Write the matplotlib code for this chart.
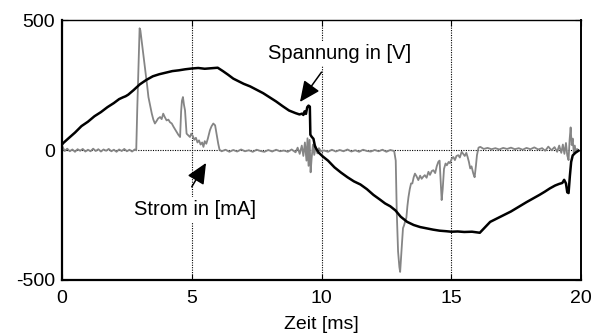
import matplotlib
matplotlib.use("Agg")
import matplotlib.pyplot as plt

plt.rcParams['font.family'] = ['Liberation Sans', 'DejaVu Sans']
plt.rcParams['axes.unicode_minus'] = False

# Spannung (voltage) trace, time in ms, value in V
t_u = [0.0, 0.05, 0.25, 0.5, 0.75, 1.0, 1.25, 1.5, 1.75, 2.0, 2.2, 2.35, 2.45, 2.55,
       2.75, 3.0, 3.25, 3.5, 3.75, 4.0, 4.25, 4.5, 4.75, 5.0, 5.25, 5.5, 5.75, 6.0,
       6.2, 6.4, 6.6, 6.8, 7.0, 7.25, 7.5, 7.75, 8.0, 8.25, 8.5, 8.75, 9.0, 9.15,
       9.25, 9.3, 9.35, 9.4, 9.45, 9.5, 9.55, 9.57, 9.62, 9.69, 9.75, 9.82, 9.9,
       10.05, 10.25, 10.5, 10.75, 11.0, 11.25, 11.5, 11.75, 12.0, 12.25, 12.45,
       12.65, 12.85, 13.05, 13.3, 13.55, 13.8, 14.05, 14.3, 14.55, 14.8, 15.0,
       15.25, 15.5, 15.8, 16.1, 16.3, 16.5, 16.7, 16.9, 17.1, 17.3, 17.5, 17.7,
       17.9, 18.15, 18.4, 18.6, 18.8, 19.0, 19.15, 19.28, 19.35, 19.42, 19.47,
       19.52, 19.57, 19.62, 19.68, 19.78, 19.9]
u = [22, 28, 46, 68, 93, 110, 131, 147, 166, 182, 197, 204, 208, 214,
     231, 254, 271, 285, 293, 299, 305, 308, 312, 315, 317, 314, 316, 318,
     305, 291, 276, 266, 256, 246, 233, 220, 204, 188, 170, 153, 143, 138,
     141, 136, 150, 140, 166, 172, 168, 60, 52, 44, 14, 2, -10,
     -24, -40, -66, -86, -104, -120, -132, -150, -172, -190, -205,
     -216, -232, -256, -276, -288, -296, -301, -306, -310, -312, -314,
     -313, -315, -314, -318, -297, -276, -266, -256, -246, -236, -224, -212,
     -200, -186, -172, -160, -147, -136, -130, -126, -114, -128, -162,
     -165, -100, -45, -20, -10, -2]

# Strom (current) trace, time in ms, value in mA
t_i = [0.0, 0.1, 0.2, 0.3, 0.4, 0.5, 0.6, 0.7, 0.8, 0.9, 1.0, 1.1, 1.2, 1.3, 1.4,
       1.5, 1.6, 1.7, 1.8, 1.9, 2.0, 2.1, 2.2, 2.3, 2.4, 2.5, 2.6, 2.7, 2.8, 2.86,
       2.9, 2.95, 2.99, 3.02, 3.06, 3.1, 3.13, 3.18, 3.24, 3.28, 3.33, 3.4, 3.46,
       3.52, 3.58, 3.64, 3.7, 3.78, 3.84, 3.9, 3.96, 4.03, 4.1, 4.16, 4.23, 4.3,
       4.36, 4.42, 4.48, 4.55, 4.59, 4.62, 4.66, 4.7, 4.74, 4.8, 4.86, 4.93,
       4.98, 5.04, 5.1, 5.16, 5.22, 5.28, 5.34, 5.4, 5.45, 5.5, 5.56, 5.62,
       5.7, 5.76, 5.83, 5.9, 5.96, 6.02, 6.07, 6.15, 6.3, 6.45, 6.6, 6.75,
       6.9, 7.05, 7.2, 7.35, 7.5, 7.65, 7.8, 7.95, 8.1, 8.25, 8.4, 8.55, 8.7,
       8.85, 9.0, 9.08, 9.16, 9.24, 9.3, 9.36, 9.42, 9.46, 9.5, 9.54, 9.58,
       9.62, 9.67, 9.72, 9.78, 9.84, 9.9, 9.98, 10.1, 10.25, 10.4, 10.55, 10.7,
       10.85, 11.0, 11.15, 11.3, 11.45, 11.6, 11.75, 11.9, 12.05, 12.2, 12.35,
       12.5, 12.65, 12.8, 12.86, 12.9, 12.95, 13.0, 13.03, 13.06, 13.1, 13.14,
       13.18, 13.22, 13.27, 13.31, 13.35, 13.4, 13.45, 13.5, 13.55, 13.6,
       13.66, 13.73, 13.8, 13.86, 13.92, 13.98, 14.05, 14.12, 14.18, 14.25,
       14.31, 14.38, 14.44, 14.5, 14.55, 14.59, 14.63, 14.67, 14.72, 14.78,
       14.83, 14.9, 14.95, 15.02, 15.08, 15.14, 15.2, 15.27, 15.33, 15.4,
       15.46, 15.52, 15.58, 15.63, 15.68, 15.73, 15.78, 15.85, 15.9, 15.95,
       15.99, 16.05, 16.12, 16.25, 16.4, 16.55, 16.7, 16.85, 17.0, 17.15,
       17.3, 17.45, 17.6, 17.75, 17.9, 18.05, 18.2, 18.35, 18.5, 18.62, 18.74,
       18.86, 18.98, 19.08, 19.16, 19.24, 19.3, 19.36, 19.42, 19.47, 19.52,
       19.56, 19.6, 19.64, 19.68, 19.72, 19.76, 19.8, 19.85, 19.9]
i = [18, -3, 6, -4, 3, -6, 4, -2, 5, -5, 2, -4, 6, -3, 4,
     -5, 3, -2, 5, -4, 2, -6, 3, -3, 5, -4, 2, -5, 3, 0,
     160, 330, 470, 462, 430, 400, 372, 330, 282, 250, 205, 170, 141,
     118, 103, 112, 122, 128, 120, 141, 128, 115, 118, 108, 103, 90,
     80, 70, 60, 51, 150, 190, 205, 175, 154, 64, 58, 51,
     64, 55, 40, 48, 30, 38, 22, 30, 13, 35, 25, 45,
     77, 92, 103, 96, 60, 25, 2, -4, 2, -6, 1, -5,
     3, -4, 0, -6, 2, -3, -6, 1, -5, 2, -4, -1, -6,
     3, -8, 10, -14, 18, -22, 30, -40, 46, -60, 40, -85,
     -30, 22, -18, 15, -12, 8, -4, -1, -6, 2, -5, 1,
     -4, 3, -5, 0, -6, 2, -3, -5, 1, -4, 2,
     -6, 1, -3, -40, -240, -390, -450, -469, -420, -360, -300,
     -290, -275, -260, -215, -181, -150, -128, -128, -105, -90,
     -100, -115, -98, -110, -102, -96, -106, -83, -95, -80,
     -77, -88, -62, -45, -40, -120, -192, -150, -72, -51,
     -58, -45, -50, -32, -26, -38, -22, -19, -28, -6,
     -14, -22, -10, -26, -45, -70, -62, -90, -104, -60,
     -19, 10, 13, 5, 9, 4, 8, 3, 9, 5,
     10, 4, 8, 2, 9, 4, 11, 3, 8, -2, 14,
     0, 12, -6, 18, -10, 22, -14, 28, -20, -38,
     40, 88, 20, 45, -10, 18, -8, 5, 0]

x_ticks = [0, 5, 10, 15, 20]
y_ticks = [-500, 0, 500]

fig = plt.figure(figsize=(5.98, 3.36), dpi=100)
ax = fig.add_axes([0.1037, 0.1667, 0.8679, 0.7723])

# dotted grid: vertical lines at the inner x ticks, horizontal at zero
for xv in x_ticks[1:-1]:
    ax.axvline(xv, color='black', lw=0.8, ls=(0, (1, 1.2)), zorder=1)
ax.axhline(0, color='black', lw=0.8, ls=(0, (1, 1.2)), zorder=1)

ax.plot(t_i, i, color='#858585', lw=1.3, zorder=2)
ax.plot(t_u, u, color='black', lw=1.8, zorder=3)

ax.set_xlim(0, 20)
ax.set_ylim(-500, 500)
ax.set_xticks(x_ticks)
ax.set_yticks(y_ticks)
ax.tick_params(direction='in', length=4, width=0.8, labelsize=14, colors='black')
ax.tick_params(axis='x', pad=7)
ax.tick_params(axis='y', pad=5)
ax.tick_params(top=True, right=True)
for side, w in [('left', 1.6), ('bottom', 1.6), ('right', 1.4), ('top', 1.0)]:
    ax.spines[side].set_linewidth(w)
ax.set_xlabel('Zeit [ms]', fontsize=14, labelpad=7)

arrow = dict(arrowstyle='-|>,head_length=0.7,head_width=0.32', mutation_scale=18,
             lw=1.1, color='black', shrinkA=0, shrinkB=0)
box = dict(facecolor='white', edgecolor='none', pad=2)

ax.annotate('', xy=(9.17, 186), xytext=(10.0, 301), arrowprops=arrow, zorder=5)
ax.text(10.69, 350, 'Spannung in [V]', ha='center', va='baseline', fontsize=14.5,
        bbox=box, zorder=4)

ax.annotate('', xy=(5.55, -49), xytext=(5.0, -141), arrowprops=arrow, zorder=5)
ax.text(5.14, -250, 'Strom in [mA]', ha='center', va='baseline', fontsize=14.5,
        bbox=box, zorder=4)

fig.savefig('out.png', dpi=100)
